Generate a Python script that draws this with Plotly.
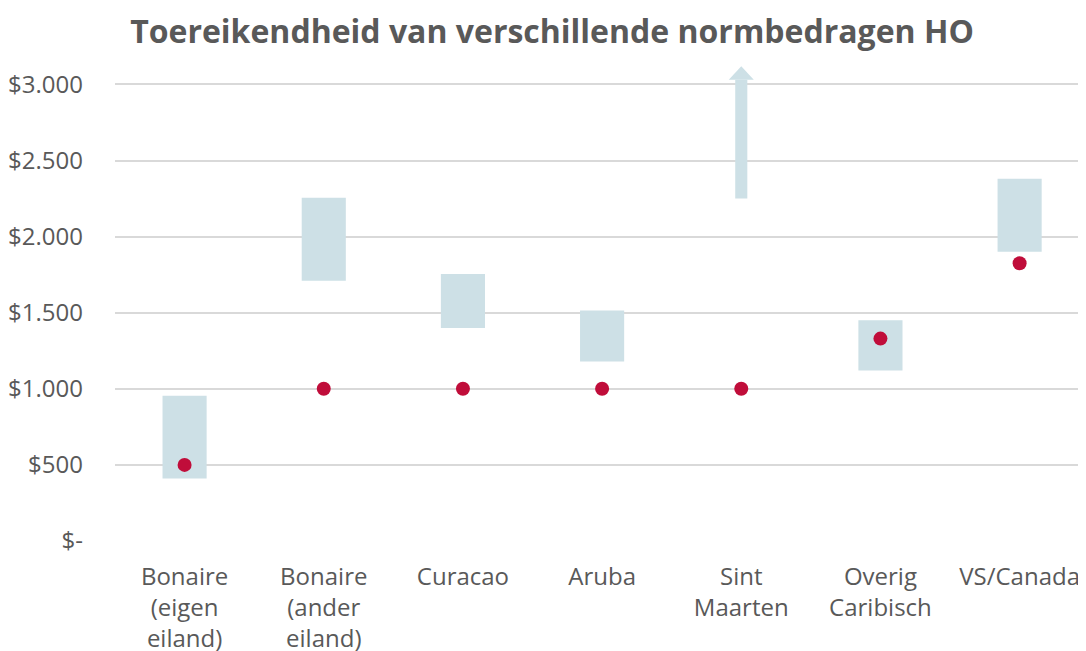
import plotly.graph_objects as go

categories = ["Bonaire<br>(eigen<br>eiland)", "Bonaire<br>(ander<br>eiland)", "Curacao", "Aruba",
              "Sint<br>Maarten", "Overig<br>Caribisch", "VS/Canada"]
range_low = [410, 1710, 1400, 1180, 2250, 1120, 1900]
range_high = [955, 2255, 1755, 1515, None, 1450, 2380]   # None = open-ended (arrow)
norm_values = [500, 1000, 1000, 1000, 1000, 1330, 1825]
y_ticks = [0, 500, 1000, 1500, 2000, 2500, 3000]
y_tick_labels = ["$-", "$500", "$1.000", "$1.500", "$2.000", "$2.500", "$3.000"]

BAR_COLOR = "#cde0e6"
DOT_COLOR = "#c00d3a"
TEXT_COLOR = "#595959"
FONT = "Open Sans"
Y_MAX = 3200
OFF = 8  # default page body margin
W, H = 1086 - OFF, 651 - OFF

x = list(range(len(categories)))
fig = go.Figure()

# closed ranges
bx = [i for i in x if range_high[i] is not None]
fig.add_trace(go.Bar(
    x=bx, base=[range_low[i] for i in bx],
    y=[range_high[i] - range_low[i] for i in bx],
    width=0.317, marker=dict(color=BAR_COLOR, line=dict(width=0)),
    hoverinfo="skip", showlegend=False))

# open-ended ranges: shaft + arrow head
head_base = 3030
head_tip = 3119
ox = [i for i in x if range_high[i] is None]
fig.add_trace(go.Bar(
    x=ox, base=[range_low[i] for i in ox],
    y=[head_base - range_low[i] for i in ox],
    width=0.087, marker=dict(color=BAR_COLOR, line=dict(width=0)),
    hoverinfo="skip", showlegend=False))
for i in ox:
    fig.add_trace(go.Scatter(
        x=[i - 0.09, i + 0.09, i, i - 0.09], y=[head_base, head_base, head_tip, head_base],
        mode="lines", fill="toself", fillcolor=BAR_COLOR, line=dict(width=0, color=BAR_COLOR),
        hoverinfo="skip", showlegend=False))

fig.add_trace(go.Scatter(
    x=x, y=norm_values, mode="markers",
    marker=dict(color=DOT_COLOR, size=14, line=dict(width=0)),
    showlegend=False))

plot_top = 541 - Y_MAX * 457 / 3000
fig.update_layout(
    width=W, height=H,
    margin=dict(l=115 - OFF, r=0, t=plot_top - OFF, b=651 - 541, pad=0),
    plot_bgcolor="white", paper_bgcolor="white",
    font=dict(family=FONT, color=TEXT_COLOR, size=24),
    title=dict(text="<b>Toereikendheid van verschillende normbedragen HO</b>",
               x=(552 - OFF) / W, xanchor="center", y=1 - (32 - OFF) / H, yanchor="middle",
               font=dict(size=32, color=TEXT_COLOR, family=FONT)),
    barmode="overlay",
    xaxis=dict(tickvals=x, ticktext=categories, range=[-0.5, 6.477], showgrid=False,
               zeroline=False, showline=False, ticks="", ticklabelstandoff=19,
               automargin=False, tickfont=dict(size=24, color=TEXT_COLOR)),
    yaxis=dict(range=[0, Y_MAX], tickvals=y_ticks, ticktext=y_tick_labels,
               showgrid=True, gridcolor="#d9d9d9", gridwidth=2, zeroline=False,
               ticks="", ticklabelstandoff=31, automargin=False,
               tickfont=dict(size=24, color=TEXT_COLOR)),
)

fig.write_html("out.html")
